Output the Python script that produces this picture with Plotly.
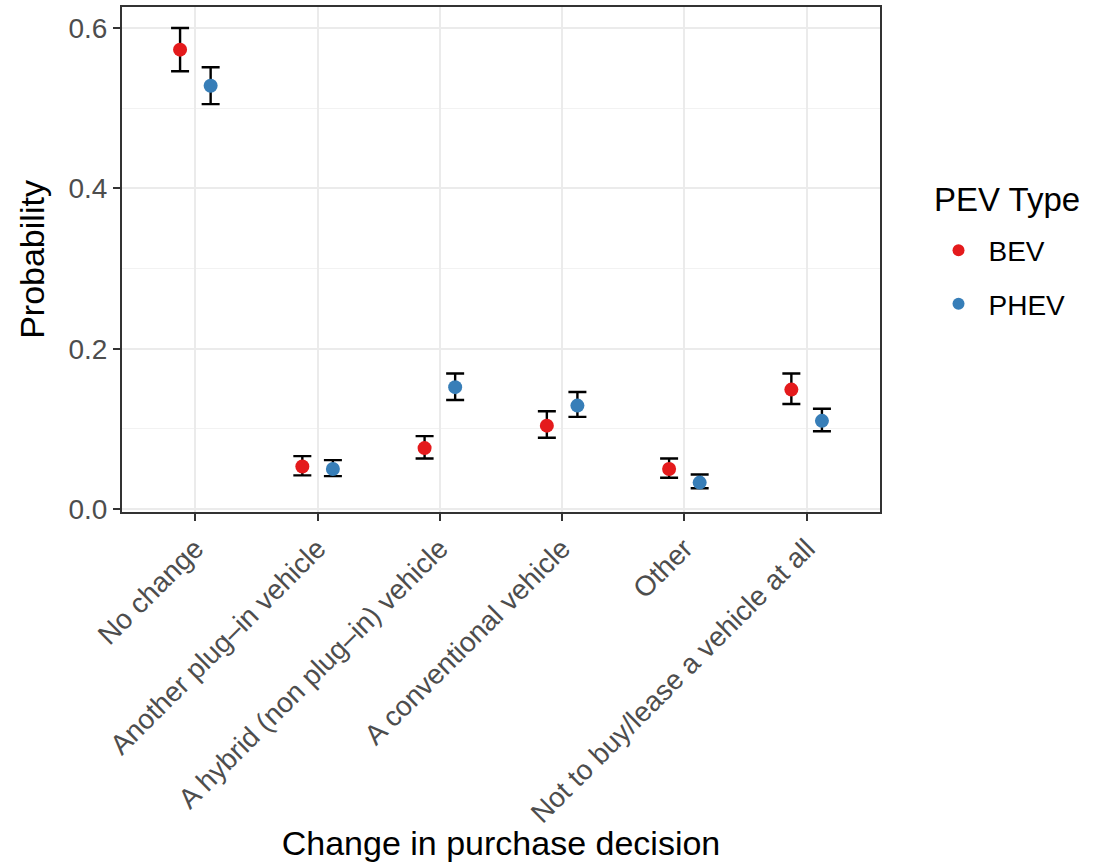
import plotly.graph_objects as go

categories = [
    "No change",
    "Another plug\u2013in vehicle",
    "A hybrid (non plug\u2013in) vehicle",
    "A conventional vehicle",
    "Other",
    "Not to buy/lease a vehicle at all",
]

bev_prob = [0.573, 0.053, 0.076, 0.104, 0.050, 0.149]
bev_lo = [0.546, 0.042, 0.063, 0.089, 0.039, 0.131]
bev_hi = [0.600, 0.066, 0.091, 0.122, 0.063, 0.169]

phev_prob = [0.528, 0.050, 0.152, 0.129, 0.033, 0.110]
phev_lo = [0.505, 0.041, 0.136, 0.115, 0.026, 0.097]
phev_hi = [0.551, 0.061, 0.169, 0.146, 0.043, 0.125]

y_ticks = [0.0, 0.2, 0.4, 0.6]

FONT = "Liberation Sans, Arial, Helvetica, sans-serif"
DODGE = 0.125

fig = go.Figure()

series = [
    ("BEV", "#E41A1C", -DODGE, bev_prob, bev_lo, bev_hi),
    ("PHEV", "#377EB8", DODGE, phev_prob, phev_lo, phev_hi),
]

for name, color, offset, prob, lo, hi in series:
    xs = [i + offset for i in range(len(categories))]
    fig.add_trace(go.Scatter(
        x=xs,
        y=prob,
        mode="markers",
        name=name,
        legendgroup=name,
        marker=dict(color=color, size=14, line=dict(width=0)),
        error_y=dict(
            type="data",
            symmetric=False,
            array=[h - p for h, p in zip(hi, prob)],
            arrayminus=[p - l for p, l in zip(prob, lo)],
            color="black",
            thickness=2.4,
            width=9,
        ),
    ))

# legend heading
fig.add_annotation(
    text="PEV Type",
    xref="paper", yref="paper",
    x=1.068, y=0.619,
    xanchor="left", yanchor="middle",
    showarrow=False,
    font=dict(size=33, color="black", family=FONT),
)

fig.update_layout(
    width=1096,
    height=862,
    margin=dict(l=122, r=216, t=7, b=350),
    paper_bgcolor="white",
    plot_bgcolor="white",
    font=dict(family=FONT, color="black"),
    legend=dict(
        font=dict(size=28, color="black"),
        x=1.064,
        xanchor="left",
        y=0.567,
        yanchor="top",
        tracegroupgap=14,
        itemwidth=50,
        itemsizing="constant",
    ),
    xaxis=dict(
        range=[-0.6, len(categories) - 0.4],
        tickmode="array",
        tickvals=list(range(len(categories))),
        ticktext=categories,
        tickangle=-45,
        tickfont=dict(size=28, color="#4D4D4D"),
        ticks="outside",
        ticklen=7,
        tickwidth=2,
        tickcolor="#333333",
        showgrid=True,
        gridcolor="#EBEBEB",
        gridwidth=2.2,
        showline=True,
        linecolor="#333333",
        linewidth=2,
        mirror=True,
        zeroline=False,
        automargin=False,
        title=dict(text="Change in purchase decision", font=dict(size=34, color="black"), standoff=2),
    ),
    yaxis=dict(
        range=[-0.0037, 0.6262],
        tickmode="array",
        tickvals=y_ticks,
        ticktext=[f"{v:.1f}" for v in y_ticks],
        tickfont=dict(size=28, color="#4D4D4D"),
        ticks="outside",
        ticklen=7,
        tickwidth=2,
        tickcolor="#333333",
        showgrid=True,
        gridcolor="#EBEBEB",
        gridwidth=2.2,
        minor=dict(dtick=0.1, tick0=0.1, showgrid=True, gridcolor="#F2F2F2", gridwidth=1.1, ticks=""),
        showline=True,
        linecolor="#333333",
        linewidth=2,
        mirror=True,
        zeroline=False,
        automargin=False,
        title=dict(text="Probability", font=dict(size=34, color="black"), standoff=14),
    ),
)

fig.write_html("out.html")
